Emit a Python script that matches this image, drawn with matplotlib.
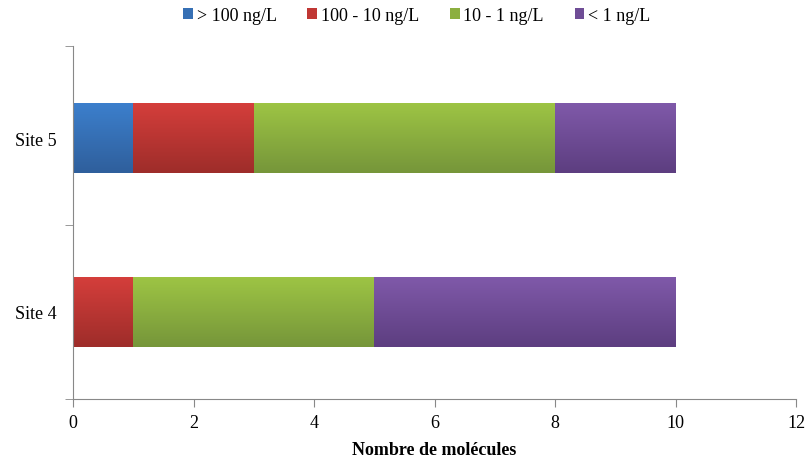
import numpy as np
import matplotlib
matplotlib.use("Agg")
import matplotlib.pyplot as plt
from matplotlib.patches import Patch
from matplotlib.colors import LinearSegmentedColormap

plt.rcParams['font.family'] = ['Liberation Serif', 'DejaVu Serif']

# Data
sites = ['Site 4', 'Site 5']
classes = ['> 100 ng/L', '100 - 10 ng/L', '10 - 1 ng/L', '< 1 ng/L']
counts = {
    '> 100 ng/L':    [0, 1],
    '100 - 10 ng/L': [1, 2],
    '10 - 1 ng/L':   [4, 5],
    '< 1 ng/L':      [5, 2],
}

# top (light) / bottom (dark) colours for the gradient fill
top_cols = ['#3c7fcc', '#d43e3b', '#9dc444', '#7f59a9']
bot_cols = ['#2f5f9c', '#9e2d2a', '#76963a', '#5d3e80']
mid_cols = ['#3670b5', '#c03734', '#8caf40', '#6f4d96']

fig = plt.figure(figsize=(8.06, 4.64), dpi=100)
ax = fig.add_axes([0.0906, 0.138, 0.897, 0.761])

y = np.arange(len(sites))
left = np.zeros(len(sites))
for i, c in enumerate(classes):
    vals = np.array(counts[c], dtype=float)
    bars = ax.barh(y, vals, left=left, height=0.4, color=mid_cols[i], linewidth=0)
    cmap = LinearSegmentedColormap.from_list('g%d' % i, [bot_cols[i], top_cols[i]])
    grad = np.linspace(0, 1, 64).reshape(-1, 1)
    for b in bars:
        if b.get_width() <= 0:
            continue
        x0, y0, w, h = b.get_x(), b.get_y(), b.get_width(), b.get_height()
        ax.imshow(grad, extent=(x0, x0 + w, y0, y0 + h), origin='lower',
                  cmap=cmap, aspect='auto', zorder=2)
    left += vals

ytop = 1.53
ax.set_xlim(0, 12)
ax.set_ylim(-0.5, ytop)
ax.set_xticks(np.arange(0, 13, 2))
ax.set_yticks(y)
ax.set_yticklabels(sites)
ax.set_yticks([-0.5, 0.5, ytop], minor=True)
ax.tick_params(axis='y', which='major', length=0, labelsize=13, pad=12)
ax.tick_params(axis='y', which='minor', length=6, color='#888888')
ax.tick_params(axis='x', length=6, color='#888888', labelsize=13, pad=5)
for s in ['top', 'right']:
    ax.spines[s].set_visible(False)
for s in ['left', 'bottom']:
    ax.spines[s].set_color('#888888')
    ax.spines[s].set_linewidth(0.8)

ax.set_xlabel('Nombre de molécules', fontsize=13, fontweight='bold', labelpad=7)

handles = [Patch(facecolor=mid_cols[i], label=classes[i]) for i in range(len(classes))]
fig.legend(handles=handles, loc='upper center', bbox_to_anchor=(0.517, 1.018), ncol=4,
           frameon=False, fontsize=13, handlelength=0.55, handleheight=0.55,
           handletextpad=0.2, columnspacing=1.7)

fig.savefig('out.png', dpi=100)
